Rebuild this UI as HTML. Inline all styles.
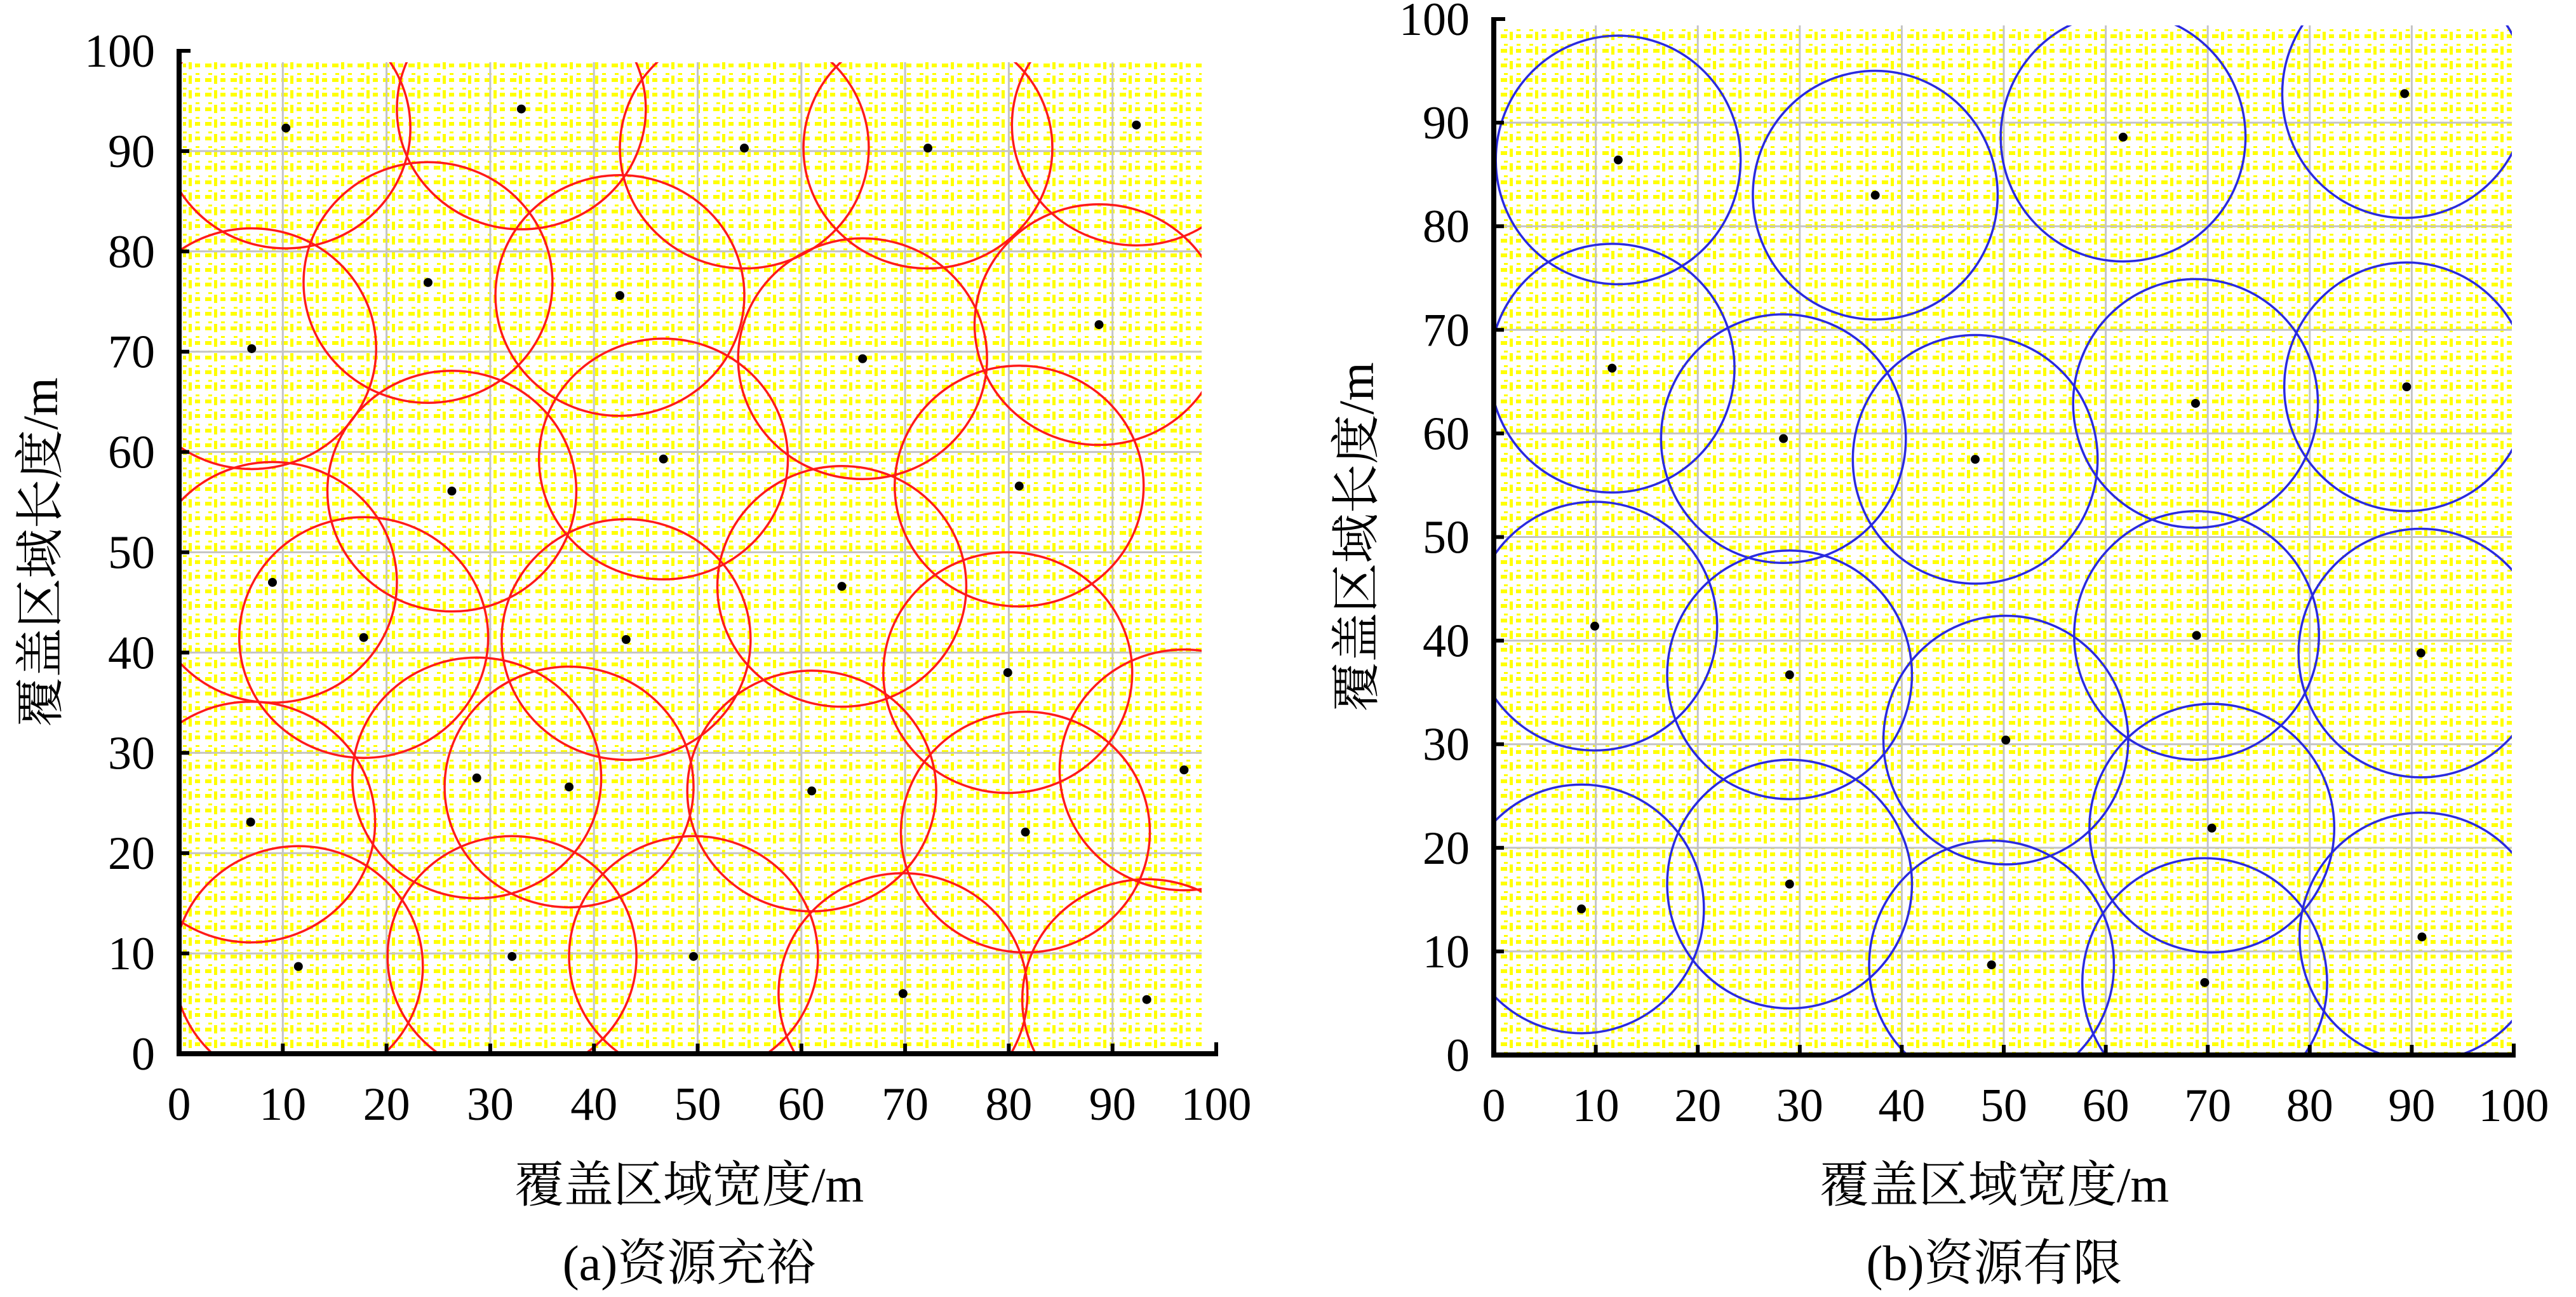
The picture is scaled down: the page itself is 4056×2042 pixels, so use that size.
<!DOCTYPE html>
<html><head><meta charset="utf-8">
<style>
html,body{margin:0;padding:0;background:#fff;}
svg{display:block;}
text{font-family:"Liberation Serif","Noto Serif CJK SC","Noto Sans CJK SC",serif;fill:#000;}
</style></head>
<body>
<svg id="fig" width="4056" height="2042" viewBox="0 0 4056 2042" xmlns="http://www.w3.org/2000/svg">
<defs>
<pattern id="yp" patternUnits="userSpaceOnUse" width="40" height="23">
<rect x="3" y="8" width="10" height="6" fill="#ffff00"/>
<rect x="17" y="4" width="5" height="13" fill="#ffff00"/>
<rect x="27" y="8" width="8" height="6" fill="#ffff00"/>
<rect x="8" y="0" width="6" height="3" fill="#ffff00"/>
<rect x="28" y="0" width="6" height="3" fill="#ffff00"/>
</pattern>
<clipPath id="clipA"><rect x="282" y="98" width="1610" height="1561"/></clipPath>
<clipPath id="clipB"><rect x="2352" y="40" width="1603" height="1621"/></clipPath>
</defs>
<g id="panelA"></g>
<g id="panelB"></g>
</svg>
<script>
// Panel (a) sensor nodes
const nodesAX = [10.3,33.0,54.5,72.2,92.3,24.0,42.5,7.0,65.9,88.7,46.7,26.3,81.0,9.0,17.8,43.1,63.9,79.9,96.9,28.7,37.6,61.0,6.9,81.6,11.5,32.1,49.6,69.8,93.3];
const nodesAY = [92.3,94.2,90.3,90.3,92.6,76.9,75.6,70.3,69.3,72.7,59.3,56.1,56.6,47.0,41.5,41.3,46.6,38.0,28.3,27.5,26.6,26.2,23.1,22.1,8.7,9.7,9.7,6.0,5.4];
// Panel (b) sensor nodes
const nodesBX = [12.2,37.4,61.7,89.3,11.6,28.4,47.2,68.8,89.5,9.9,29.0,50.2,68.9,90.9,70.4,8.6,29.0,48.8,69.7,91.0];
const nodesBY = [86.4,83.0,88.6,92.8,66.3,59.5,57.5,62.9,64.5,41.4,36.7,30.4,40.5,38.8,21.9,14.1,16.5,8.7,7.0,11.4];
const radiusA = 12;
const radiusB = 12;
const tickValues = [0,10,20,30,40,50,60,70,80,90,100];
const tickLabels = ["0","10","20","30","40","50","60","70","80","90","100"];

const NS = "http://www.w3.org/2000/svg";
function mk(tag, attrs, parent){
  const e = document.createElementNS(NS, tag);
  for (const k in attrs) e.setAttribute(k, attrs[k]);
  parent.appendChild(e);
  return e;
}

function drawPanel(g, cfg){
  const sx = v => cfg.x0 + (cfg.x1 - cfg.x0) * v / 100;
  const sy = v => cfg.y0 - (cfg.y0 - cfg.y1) * v / 100;
  // background pattern
  const bg = mk('rect', {x: cfg.x0+6, y: cfg.bgTop, width: cfg.bgRight-cfg.x0-6, height: cfg.y0-cfg.bgTop-4, fill:'url(#yp)'}, g);
  
  
  // grid
  const grid = mk('g', {stroke:'#c4c4c4','stroke-width':3}, g);
  
  
  tickValues.slice(1,10).forEach(v=>{
    mk('line',{x1:sx(v),x2:sx(v),y1:cfg.bgTop,y2:cfg.y0},grid);
    mk('line',{x1:cfg.x0,x2:cfg.bgRight,y1:sy(v),y2:sy(v)},grid);
  });
  // circles
  const cg = mk('g', {'clip-path':'url(#'+cfg.clip+')', fill:'none', stroke:cfg.color, 'stroke-width':3.5}, g);
  
  
  const pxPerUnit = (cfg.x1 - cfg.x0)/100;
  const pyPerUnit = (cfg.y0 - cfg.y1)/100;
  cfg.xs.forEach((x,i)=>{
    const c = mk('ellipse',{cx:sx(x),cy:sy(cfg.ys[i]),rx:cfg.r*pxPerUnit,ry:cfg.r*pyPerUnit},cg);
    
    
  });
  // nodes
  const ng = mk('g', {fill:'#000'}, g);
  
  
  cfg.xs.forEach((x,i)=>{
    const d = mk('circle',{cx:sx(x),cy:sy(cfg.ys[i]),r:7},ng);
    
    
  });
  // axes
  const ax = mk('g', {stroke:'#000', fill:'none'}, g);
  
  
  mk('line',{x1:cfg.x0,x2:cfg.x0,y1:cfg.y1-3,y2:cfg.y0+4,'stroke-width':8},ax);
  mk('line',{x1:cfg.x0-4,x2:cfg.x1+3,y1:cfg.y0,y2:cfg.y0,'stroke-width':8},ax);
  mk('line',{x1:cfg.x0,x2:cfg.x0+18,y1:cfg.y1,y2:cfg.y1,'stroke-width':6},ax);
  mk('line',{x1:cfg.x1,x2:cfg.x1,y1:cfg.y0,y2:cfg.y0-18,'stroke-width':6},ax);
  tickValues.slice(1,10).forEach(v=>{
    mk('line',{x1:sx(v),x2:sx(v),y1:cfg.y0,y2:cfg.y0-16,'stroke-width':6},ax);
    mk('line',{x1:cfg.x0,x2:cfg.x0+16,y1:sy(v),y2:sy(v),'stroke-width':6},ax);
  });
  // tick labels
  tickValues.forEach((v,i)=>{
    const tx = mk('text',{x:sx(v),y:cfg.y0+104,'font-size':74,'text-anchor':'middle'},g);
    tx.textContent = tickLabels[i];
    
    
    const ty = mk('text',{x:cfg.x0-38,y:sy(v)+25,'font-size':74,'text-anchor':'end'},g);
    ty.textContent = tickLabels[i];
    
    
  });
  const xt = mk('text',{x:cfg.titleX,y:1892,'font-size':78,'text-anchor':'middle'},g);
  xt.textContent = '覆盖区域宽度/m';
  
  
  const yt = mk('text',{x:0,y:0,'font-size':78,'text-anchor':'middle',transform:'translate('+(cfg.yTitleX)+','+((cfg.y0+cfg.y1)/2)+') rotate(-90)'},g);
  yt.textContent = '覆盖区域长度/m';
  
  
  const cap = mk('text',{x:cfg.titleX,y:2015,'font-size':78,'text-anchor':'middle'},g);
  cap.textContent = cfg.caption;
  
  
}

drawPanel(document.getElementById('panelA'), {x0:282,x1:1915,y0:1659,y1:80,bgTop:98,bgRight:1892,clip:'clipA',color:'#ff1a1a',xs:nodesAX,ys:nodesAY,r:radiusA,titleX:1085,yTitleX:90,caption:'(a)资源充裕'});
drawPanel(document.getElementById('panelB'), {x0:2352,x1:3958,y0:1661,y1:30,bgTop:40,bgRight:3955,clip:'clipB',color:'#2a2ae0',xs:nodesBX,ys:nodesBY,r:radiusB,titleX:3140,yTitleX:2162,caption:'(b)资源有限'});
</script>
</body></html>
